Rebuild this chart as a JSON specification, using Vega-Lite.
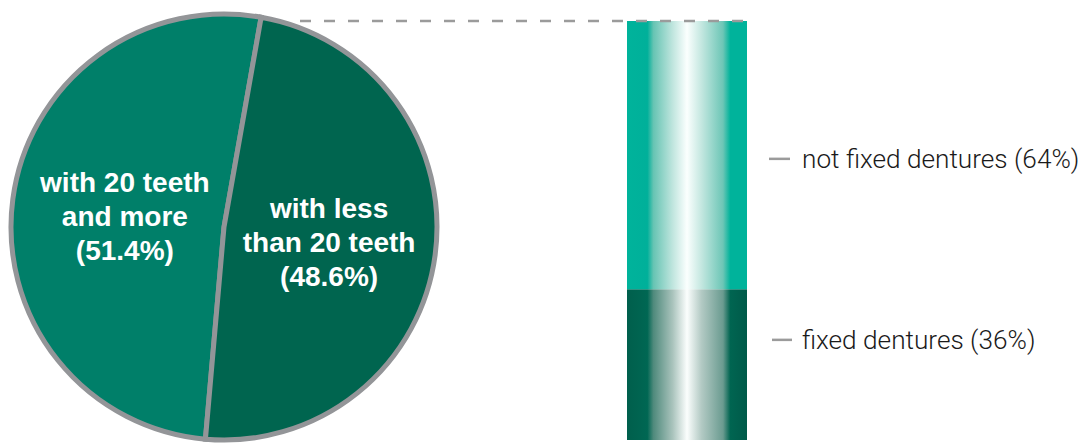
{
  "$schema": "https://vega.github.io/schema/vega-lite/v6.json",
  "width": 1082,
  "height": 444,
  "autosize": {"type": "fit", "contains": "padding"},
  "padding": 0,
  "background": "white",
  "config": {"view": {"stroke": null}},
  "datasets": {
    "pie": [
      {"category": "with 20 teeth and more", "share": 51.4, "label": "with 20 teeth\nand more\n(51.4%)"},
      {"category": "with less than 20 teeth", "share": 48.6, "label": "with less\nthan 20 teeth\n(48.6%)"}
    ],
    "bars": [
      {"segment": "fixed dentures", "value": 36, "label": "fixed dentures (36%)"},
      {"segment": "not fixed dentures", "value": 64, "label": "not fixed dentures (64%)"}
    ]
  },
  "layer": [
    {
      "data": {"name": "pie"},
      "mark": {"type": "arc", "radius": 213, "stroke": "#939598", "strokeWidth": 5},
      "encoding": {
        "theta": {"field": "share", "type": "quantitative", "stack": true, "scale": {"range": [3.2289, 9.5121]}},
        "order": {"field": "category", "type": "ordinal", "sort": "ascending"},
        "color": {"field": "category", "type": "nominal", "legend": null,
          "scale": {"domain": ["with 20 teeth and more", "with less than 20 teeth"], "range": ["#007f69", "#00654f"]}},
        "x": {"value": 224},
        "y": {"value": 227}
      }
    },
    {
      "data": {"name": "pie"},
      "mark": {"type": "text", "radius": 103, "dy": -30, "fill": "white", "font": "Liberation Sans", "fontSize": 28, "fontWeight": "bold", "lineBreak": "\n", "lineHeight": 34, "align": "center", "baseline": "middle"},
      "encoding": {
        "theta": {"field": "share", "type": "quantitative", "stack": true},
        "order": {"field": "category", "type": "ordinal", "sort": "ascending"},
        "detail": {"field": "category", "type": "nominal"},
        "text": {"field": "label", "type": "nominal"},
        "x": {"value": 227},
        "y": {"value": 227}
      }
    },
    {
      "data": {"name": "bars"},
      "transform": [
        {"stack": "value", "groupby": [], "sort": [{"field": "segment", "order": "ascending"}], "as": ["v0", "v1"]},
        {"filter": "datum.segment === 'fixed dentures'"}
      ],
      "mark": {"type": "bar", "color": {"gradient": "linear", "x1": 0, "x2": 1, "y1": 0, "y2": 0,
        "stops": [
          {"offset": 0, "color": "#005f4c"},
          {"offset": 0.17, "color": "#006753"},
          {"offset": 0.22, "color": "#4f8a7c"},
          {"offset": 0.38, "color": "#a9c3bc"},
          {"offset": 0.5, "color": "#fbfefd"},
          {"offset": 0.62, "color": "#b3cac4"},
          {"offset": 0.8, "color": "#6a9b90"},
          {"offset": 0.86, "color": "#006551"},
          {"offset": 1, "color": "#005a49"}
        ]}},
      "encoding": {
        "y": {"field": "v0", "type": "quantitative", "scale": {"domain": [0, 100], "range": [440, 21]}, "axis": null},
        "y2": {"field": "v1"},
        "x": {"value": 627},
        "x2": {"value": 747}
      }
    },
    {
      "data": {"name": "bars"},
      "transform": [
        {"stack": "value", "groupby": [], "sort": [{"field": "segment", "order": "ascending"}], "as": ["v0", "v1"]},
        {"filter": "datum.segment === 'not fixed dentures'"}
      ],
      "mark": {"type": "bar", "color": {"gradient": "linear", "x1": 0, "x2": 1, "y1": 0, "y2": 0,
        "stops": [
          {"offset": 0, "color": "#00b39b"},
          {"offset": 0.17, "color": "#00b09a"},
          {"offset": 0.22, "color": "#66c4b3"},
          {"offset": 0.38, "color": "#bfe5de"},
          {"offset": 0.5, "color": "#fbfffe"},
          {"offset": 0.62, "color": "#c4e7e0"},
          {"offset": 0.8, "color": "#6cc6b6"},
          {"offset": 0.86, "color": "#00b39b"},
          {"offset": 1, "color": "#00b39b"}
        ]}},
      "encoding": {
        "y": {"field": "v0", "type": "quantitative"},
        "y2": {"field": "v1"},
        "x": {"value": 627},
        "x2": {"value": 747}
      }
    },
    {
      "data": {"values": [{}]},
      "mark": {"type": "rule", "color": "#9b9b9b", "strokeWidth": 2.5, "strokeDash": [11, 13]},
      "encoding": {
        "y": {"datum": 100, "type": "quantitative"},
        "x": {"value": 300},
        "x2": {"value": 747}
      }
    },
    {
      "data": {"name": "bars"},
      "transform": [{"filter": "datum.segment === 'not fixed dentures'"}],
      "layer": [
        {
          "mark": {"type": "rule", "color": "#9b9b9b", "strokeWidth": 2.5},
          "encoding": {"y": {"datum": 67.1, "type": "quantitative"}, "x": {"value": 769}, "x2": {"value": 790}}
        },
        {
          "mark": {"type": "text", "align": "left", "baseline": "middle", "dy": 1, "font": "Roboto", "fontWeight": 300, "fontSize": 26.2, "color": "#1a1a1a"},
          "encoding": {"y": {"datum": 67.1, "type": "quantitative"}, "x": {"value": 802}, "text": {"field": "label", "type": "nominal"}}
        }
      ]
    },
    {
      "data": {"name": "bars"},
      "transform": [{"filter": "datum.segment === 'fixed dentures'"}],
      "layer": [
        {
          "mark": {"type": "rule", "color": "#9b9b9b", "strokeWidth": 2.5},
          "encoding": {"y": {"datum": 23.9, "type": "quantitative"}, "x": {"value": 772}, "x2": {"value": 792}}
        },
        {
          "mark": {"type": "text", "align": "left", "baseline": "middle", "dy": 1, "font": "Roboto", "fontWeight": 300, "fontSize": 26.2, "color": "#1a1a1a"},
          "encoding": {"y": {"datum": 23.9, "type": "quantitative"}, "x": {"value": 802}, "text": {"field": "label", "type": "nominal"}}
        }
      ]
    }
  ]
}
